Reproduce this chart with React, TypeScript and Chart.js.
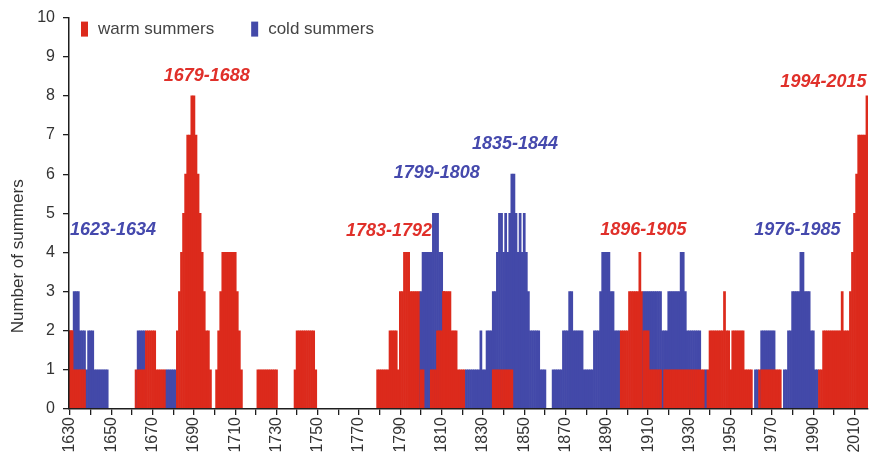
import React, { useEffect, useRef } from 'react';
import { Chart, registerables } from 'chart.js';

Chart.register(...registerables);

const START_YEAR = 1630;

// Number of warm summers, one value per year 1630–2016 (one row per decade)
const warmSummers: number[] = [
  2, 2, 1, 1, 1, 1, 1, 1, 0, 0, // 1630
  0, 0, 0, 0, 0, 0, 0, 0, 0, 0, // 1640
  0, 0, 0, 0, 0, 0, 0, 0, 0, 0, // 1650
  0, 0, 1, 1, 1, 1, 1, 2, 2, 2, // 1660
  2, 2, 1, 1, 1, 1, 1, 0, 0, 0, // 1670
  0, 0, 2, 3, 4, 5, 6, 7, 7, 8, // 1680
  8, 7, 6, 5, 4, 3, 2, 2, 1, 0, // 1690
  0, 1, 2, 3, 4, 4, 4, 4, 4, 4, // 1700
  4, 3, 2, 1, 0, 0, 0, 0, 0, 0, // 1710
  0, 1, 1, 1, 1, 1, 1, 1, 1, 1, // 1720
  1, 0, 0, 0, 0, 0, 0, 0, 0, 1, // 1730
  2, 2, 2, 2, 2, 2, 2, 2, 2, 1, // 1740
  0, 0, 0, 0, 0, 0, 0, 0, 0, 0, // 1750
  0, 0, 0, 0, 0, 0, 0, 0, 0, 0, // 1760
  0, 0, 0, 0, 0, 0, 0, 0, 0, 1, // 1770
  1, 1, 1, 1, 1, 2, 2, 2, 2, 1, // 1780
  3, 3, 4, 4, 4, 3, 3, 3, 3, 3, // 1790
  1, 1, 0, 0, 0, 1, 1, 1, 2, 2, // 1800
  2, 3, 3, 3, 3, 2, 2, 2, 1, 1, // 1810
  1, 1, 0, 0, 0, 0, 0, 0, 0, 0, // 1820
  0, 0, 0, 0, 0, 1, 1, 1, 1, 1, // 1830
  1, 1, 1, 1, 1, 0, 0, 0, 0, 0, // 1840
  0, 0, 0, 0, 0, 0, 0, 0, 0, 0, // 1850
  0, 0, 0, 0, 0, 0, 0, 0, 0, 0, // 1860
  0, 0, 0, 0, 0, 0, 0, 0, 0, 0, // 1870
  0, 0, 0, 0, 0, 0, 0, 0, 0, 0, // 1880
  0, 0, 0, 0, 0, 0, 0, 2, 2, 2, // 1890
  2, 3, 3, 3, 3, 3, 4, 3, 2, 2, // 1900
  2, 1, 1, 1, 1, 1, 1, 0, 1, 1, // 1910
  1, 1, 1, 1, 1, 1, 1, 1, 1, 1, // 1920
  1, 1, 1, 1, 1, 1, 1, 1, 0, 1, // 1930
  2, 2, 2, 2, 2, 2, 2, 3, 2, 2, // 1940
  1, 2, 2, 2, 2, 2, 2, 1, 1, 1, // 1950
  1, 0, 0, 0, 1, 1, 1, 1, 1, 1, // 1960
  1, 1, 1, 1, 1, 0, 0, 0, 0, 0, // 1970
  0, 0, 0, 0, 0, 0, 0, 0, 0, 0, // 1980
  0, 0, 0, 1, 1, 2, 2, 2, 2, 2, // 1990
  2, 2, 2, 2, 3, 2, 2, 2, 3, 4, // 2000
  5, 6, 7, 7, 7, 7, 8,          // 2010
];

// Number of cold summers, one value per year 1630–2016
const coldSummers: number[] = [
  2, 2, 3, 3, 3, 2, 2, 2, 1, 2, // 1630
  2, 2, 1, 1, 1, 1, 1, 1, 1, 0, // 1640
  0, 0, 0, 0, 0, 0, 0, 0, 0, 0, // 1650
  0, 0, 0, 2, 2, 2, 2, 0, 0, 0, // 1660
  0, 0, 0, 0, 0, 0, 0, 1, 1, 1, // 1670
  1, 1, 0, 0, 0, 0, 0, 0, 0, 0, // 1680
  0, 0, 0, 0, 0, 0, 0, 0, 0, 0, // 1690
  0, 0, 0, 0, 0, 0, 0, 0, 0, 0, // 1700
  0, 0, 0, 0, 0, 0, 0, 0, 0, 0, // 1710
  0, 0, 0, 0, 0, 0, 0, 0, 0, 0, // 1720
  0, 0, 0, 0, 0, 0, 0, 0, 0, 0, // 1730
  0, 0, 0, 0, 0, 0, 0, 0, 0, 0, // 1740
  0, 0, 0, 0, 0, 0, 0, 0, 0, 0, // 1750
  0, 0, 0, 0, 0, 0, 0, 0, 0, 0, // 1760
  0, 0, 0, 0, 0, 0, 0, 0, 0, 0, // 1770
  0, 0, 0, 0, 0, 0, 0, 0, 0, 0, // 1780
  0, 0, 0, 0, 0, 0, 0, 0, 0, 0, // 1790
  3, 4, 4, 4, 4, 4, 5, 5, 5, 4, // 1800
  4, 3, 0, 0, 0, 0, 0, 0, 0, 0, // 1810
  0, 0, 1, 1, 1, 1, 1, 1, 1, 2, // 1820
  1, 1, 2, 2, 2, 3, 3, 4, 5, 5, // 1830
  4, 5, 4, 5, 6, 6, 5, 4, 5, 4, // 1840
  5, 4, 3, 2, 2, 2, 2, 2, 1, 1, // 1850
  1, 0, 0, 0, 1, 1, 1, 1, 1, 2, // 1860
  2, 2, 3, 3, 2, 2, 2, 2, 2, 1, // 1870
  1, 1, 1, 1, 2, 2, 2, 3, 4, 4, // 1880
  4, 4, 3, 3, 2, 2, 2, 0, 0, 0, // 1890
  0, 0, 0, 0, 0, 0, 0, 0, 3, 3, // 1900
  3, 3, 3, 3, 3, 3, 3, 2, 2, 2, // 1910
  3, 3, 3, 3, 3, 3, 4, 4, 3, 2, // 1920
  2, 2, 2, 2, 2, 2, 0, 0, 1, 0, // 1930
  0, 0, 0, 0, 0, 0, 0, 0, 0, 0, // 1940
  0, 0, 0, 0, 0, 0, 0, 0, 0, 0, // 1950
  0, 0, 1, 1, 0, 2, 2, 2, 2, 2, // 1960
  2, 2, 0, 0, 0, 0, 1, 1, 2, 2, // 1970
  3, 3, 3, 3, 4, 4, 3, 3, 3, 2, // 1980
  2, 1, 1, 0, 0, 0, 0, 0, 0, 0, // 1990
  0, 0, 0, 0, 0, 0, 0, 0, 0, 0, // 2000
  0, 0, 0, 0, 0, 0, 0,          // 2010
];

const years: number[] = warmSummers.map((_, i) => START_YEAR + i);

const seriesNames = ['warm summers', 'cold summers'];
const xTickYears = [1630, 1640, 1650, 1660, 1670, 1680, 1690, 1700, 1710, 1720, 1730, 1740, 1750, 1760, 1770, 1780, 1790, 1800, 1810, 1820, 1830, 1840, 1850, 1860, 1870, 1880, 1890, 1900, 1910, 1920, 1930, 1940, 1950, 1960, 1970, 1980, 1990, 2000, 2010];
const xLabelYears = [1630, 1650, 1670, 1690, 1710, 1730, 1750, 1770, 1790, 1810, 1830, 1850, 1870, 1890, 1910, 1930, 1950, 1970, 1990, 2010];
const yTicks = [0, 1, 2, 3, 4, 5, 6, 7, 8, 9, 10];
const yTitle = 'Number of summers';

// Period annotations (text, series kind, anchor in data units)
const periodLabels = [
  { text: '1623-1634', kind: 'cold', year: 1650.8, value: 4.57 },
  { text: '1679-1688', kind: 'warm', year: 1696.2, value: 8.5 },
  { text: '1783-1792', kind: 'warm', year: 1784.5, value: 4.55 },
  { text: '1799-1808', kind: 'cold', year: 1807.6, value: 6.03 },
  { text: '1835-1844', kind: 'cold', year: 1845.5, value: 6.78 },
  { text: '1896-1905', kind: 'warm', year: 1907.7, value: 4.57 },
  { text: '1976-1985', kind: 'cold', year: 1982.3, value: 4.57 },
  { text: '1994-2015', kind: 'warm', year: 1994.9, value: 8.35 },
];

const WARM = '#dc2a1c';
const COLD = '#4349a9';
const WARM_TEXT = '#e0302a';
const COLD_TEXT = '#4549ad';
const AXIS = '#1e1e1e';
const TEXT = '#333333';
const FONT = '"Liberation Sans", Arial, sans-serif';

const overlayPlugin = {
  id: 'overlayText',
  afterDraw(chart: any) {
    const { ctx, chartArea } = chart;
    const x = chart.scales.x;
    const y = chart.scales.y;
    ctx.save();
    // period labels
    ctx.font = `italic bold 18px ${FONT}`;
    ctx.textAlign = 'center';
    ctx.textBaseline = 'middle';
    periodLabels.forEach((p) => {
      ctx.fillStyle = p.kind === 'warm' ? WARM_TEXT : COLD_TEXT;
      ctx.fillText(p.text, x.getPixelForValue(p.year), y.getPixelForValue(p.value));
    });
    // legend
    ctx.font = `17px ${FONT}`;
    ctx.textAlign = 'left';
    let lx = chartArea.left + 12;
    const ly = chartArea.top + 4;
    seriesNames.forEach((name, i) => {
      ctx.fillStyle = i === 0 ? WARM : COLD;
      ctx.fillRect(lx, ly, 7, 15);
      ctx.fillStyle = '#444';
      ctx.fillText(name, lx + 17, ly + 8);
      lx += 17 + ctx.measureText(name).width + 37;
    });
    // y-axis title
    ctx.font = `17px ${FONT}`;
    ctx.textAlign = 'center';
    ctx.fillStyle = TEXT;
    ctx.translate(18, y.getPixelForValue(3.9));
    ctx.rotate(-Math.PI / 2);
    ctx.fillText(yTitle, 0, 0);
    ctx.restore();
  },
};

export default function App() {
  const canvasRef = useRef<HTMLCanvasElement | null>(null);

  useEffect(() => {
    const canvas = canvasRef.current;
    if (!canvas) return;

    const front = years.map((yr, i) => {
      const v = Math.min(warmSummers[i], coldSummers[i]);
      return { x: yr, y: v > 0 ? v : null };
    });
    const frontColors = years.map((_, i) => (warmSummers[i] <= coldSummers[i] ? WARM : COLD));
    const back = years.map((yr, i) => {
      const v = Math.max(warmSummers[i], coldSummers[i]);
      return { x: yr, y: v > 0 ? v : null };
    });
    const backColors = years.map((_, i) => (warmSummers[i] >= coldSummers[i] ? WARM : COLD));

    const gridOpts = {
      display: true,
      drawOnChartArea: false,
      drawTicks: true,
      tickLength: 6,
      color: AXIS,
      lineWidth: 1.3,
    };

    const chart = new Chart(canvas, {
      type: 'bar',
      data: {
        datasets: [
          {
            label: 'front',
            data: front as any,
            backgroundColor: frontColors,
            borderWidth: 0,
            grouped: false,
            barPercentage: 1,
            categoryPercentage: 1,
          } as any,
          {
            label: 'back',
            data: back as any,
            backgroundColor: backColors,
            borderWidth: 0,
            grouped: false,
            barPercentage: 1,
            categoryPercentage: 1,
          } as any,
        ],
      },
      options: {
        animation: false,
        responsive: false,
        devicePixelRatio: 1,
        layout: { padding: { left: 8, top: 17, right: 3, bottom: 0 } },
        plugins: {
          legend: { display: false },
          tooltip: { enabled: false },
        },
        scales: {
          x: {
            type: 'linear',
            offset: false,
            min: 1629.5,
            max: 2016.5,
            afterBuildTicks: (scale: any) => {
              scale.ticks = xTickYears.map((v) => ({ value: v }));
            },
            afterFit: (scale: any) => {
              scale.height = 44;
              scale.paddingLeft = 0;
              scale.paddingRight = 0;
            },
            ticks: {
              autoSkip: false,
              minRotation: 90,
              maxRotation: 90,
              padding: 2,
              color: TEXT,
              font: { family: FONT, size: 16 },
              callback: (v: any) => (xLabelYears.includes(Number(v)) ? String(v) : ''),
            },
            grid: { ...gridOpts, offset: false },
            border: { display: true, color: AXIS, width: 1.5, z: 1 },
          },
          y: {
            type: 'linear',
            min: 0,
            max: 10,
            afterBuildTicks: (scale: any) => {
              scale.ticks = yTicks.map((v) => ({ value: v }));
            },
            afterFit: (scale: any) => {
              scale.width = 61;
            },
            ticks: {
              padding: 8,
              color: TEXT,
              font: { family: FONT, size: 16 },
            },
            grid: gridOpts,
            border: { display: true, color: AXIS, width: 1.5, z: 1 },
          },
        },
      } as any,
      plugins: [overlayPlugin],
    });

    return () => chart.destroy();
  }, []);

  return (
    <div style={{ position: 'absolute', left: 0, top: 0, width: 871, height: 453, background: '#fff' }}>
      <canvas ref={canvasRef} width={871} height={453} style={{ display: 'block' }} />
    </div>
  );
}
